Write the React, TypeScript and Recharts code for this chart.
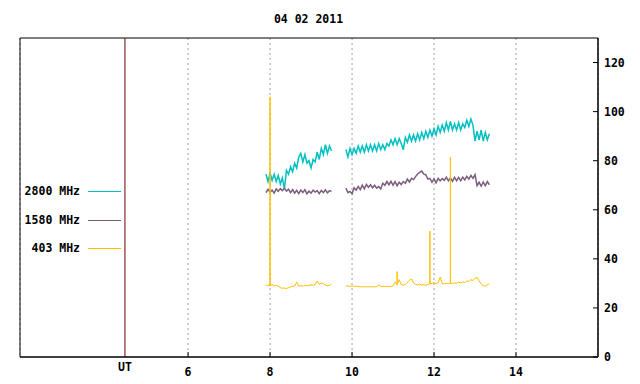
import React from 'react';
import { LineChart, Line, XAxis, YAxis, CartesianGrid, ReferenceLine, ReferenceArea } from 'recharts';

const TITLE = '04 02 2011';
const X_TICKS = [6, 8, 10, 12, 14];
const Y_TICKS = [0, 20, 40, 60, 80, 100, 120];
const UT_HOUR = 4.46;

const SERIES_NAMES = ['2800 MHz', '1580 MHz', '403 MHz'];
const SERIES_COLORS = ['#00c0c0', '#7c5c7c', '#ffbe00'];

// sample times (UT hours) for 2800 / 1580 MHz, null entry marks the data gap
const T_HI = [
    7.90, 7.95, 8.00, 8.05, 8.10, 8.15, 8.20, 8.25, 8.30, 8.35, 8.40, 8.45, 8.50, 8.55, 8.60, 8.65, 8.70,
    8.75, 8.80, 8.85, 8.90, 8.95, 9.00, 9.05, 9.10, 9.15, 9.20, 9.25, 9.30, 9.35, 9.40, 9.45, 9.50,
    9.70,
    9.85, 9.90, 9.95, 10.00, 10.05, 10.10, 10.15, 10.20, 10.25, 10.30, 10.35, 10.40, 10.45, 10.50, 10.55,
    10.60, 10.65, 10.70, 10.75, 10.80, 10.85, 10.90, 10.95, 11.00, 11.05, 11.10, 11.15, 11.20, 11.25,
    11.30, 11.35, 11.40, 11.45, 11.50, 11.55, 11.60, 11.65, 11.70, 11.75, 11.80, 11.85, 11.90, 11.95,
    12.00, 12.05, 12.10, 12.15, 12.20, 12.25, 12.30, 12.35, 12.40, 12.45, 12.50, 12.55, 12.60, 12.65,
    12.70, 12.75, 12.80, 12.85, 12.90, 12.95, 13.00, 13.05, 13.10, 13.15, 13.20, 13.25, 13.30, 13.35,
];

const V_2800 = [
    74.5, 71.5, 75.0, 72.0, 74.5, 71.5, 74.0, 70.5, 73.0, 68.5, 76.0, 74.5, 77.5, 75.5, 79.0, 77.0, 81.5,
    83.0, 79.5, 82.5, 79.0, 80.0, 77.0, 80.5, 79.5, 83.5, 80.5, 85.0, 82.5, 86.5, 83.0, 86.0, 84.0,
    null,
    84.5, 81.5, 85.0, 82.5, 85.0, 83.0, 86.0, 83.5, 86.0, 83.5, 86.5, 84.0, 86.5, 84.0, 86.5,
    84.0, 87.0, 84.5, 86.5, 84.5, 87.0, 86.0, 88.5, 86.5, 89.0, 86.5, 89.0, 87.0, 84.5,
    89.5, 87.5, 90.5, 88.0, 90.5, 88.0, 91.0, 88.5, 91.5, 89.0, 92.0, 89.5, 92.5, 90.0,
    93.0, 90.5, 94.0, 91.5, 94.5, 92.0, 95.5, 92.5, 96.0, 92.5, 95.0, 92.5, 95.5, 92.5,
    95.0, 93.5, 96.5, 94.0, 97.0, 94.5, 88.0, 92.0, 88.5, 92.5, 88.0, 91.5, 88.5, 91.0,
];

const V_1580 = [
    67.0, 68.3, 67.2, 68.0, 66.8, 68.5, 67.5, 68.6, 67.8, 68.8, 67.6, 68.4, 67.0, 68.2, 66.8, 67.9, 66.6,
    68.0, 67.0, 68.2, 66.5, 67.6, 66.8, 68.0, 67.2, 67.8, 66.6, 67.9, 67.0, 68.1, 66.9, 67.8, 67.5,
    null,
    68.8, 67.0, 67.5, 66.5, 69.0, 68.0, 69.5, 68.2, 70.0, 68.5, 70.3, 69.2, 70.2, 69.0, 70.0,
    68.8, 69.5, 68.5, 70.8, 70.0, 71.5, 70.2, 71.6, 70.0, 71.5, 69.8, 71.2, 70.3, 71.5,
    70.8, 72.5, 71.3, 72.8, 72.3, 73.5, 74.6, 75.2, 75.8, 74.5, 74.3, 72.5, 72.8, 71.2,
    72.6, 71.0, 72.8, 71.8, 72.7, 72.0, 73.3, 71.8, 73.0, 71.6, 73.2, 71.8, 73.2, 71.8,
    73.3, 72.2, 73.6, 72.5, 74.0, 72.8, 74.3, 69.8, 71.2, 69.6, 71.3, 69.8, 71.5, 70.2,
];

// 403 MHz has its own times: repeated times draw the one-sample spikes as vertical strokes
const T_403 = [
    7.90, 7.95, 8.00, 8.00, 8.00, 8.05, 8.10, 8.15, 8.20, 8.25, 8.30, 8.35, 8.40, 8.45, 8.50, 8.55, 8.60,
    8.65, 8.70, 8.75, 8.80, 8.85, 8.90, 8.95, 9.00, 9.05, 9.10, 9.15, 9.20, 9.25, 9.30, 9.35, 9.40, 9.45, 9.50,
    9.70,
    9.85, 9.90, 9.95, 10.00, 10.05, 10.10, 10.15, 10.20, 10.25, 10.30, 10.35, 10.40, 10.45, 10.50, 10.55,
    10.60, 10.65, 10.70, 10.75, 10.80, 10.85, 10.90, 10.95, 11.00, 11.05, 11.10, 11.10, 11.10, 11.15,
    11.20, 11.25, 11.30, 11.35, 11.40, 11.45, 11.50, 11.55, 11.60, 11.65, 11.70, 11.75, 11.80, 11.85,
    11.90, 11.90, 11.90, 11.95, 12.00, 12.05, 12.10, 12.15, 12.20, 12.25, 12.30, 12.35, 12.40, 12.40, 12.40,
    12.45, 12.50, 12.55, 12.60, 12.65, 12.70, 12.75, 12.80, 12.85, 12.90, 12.95, 13.00, 13.05, 13.10,
    13.15, 13.20, 13.25, 13.30, 13.35,
];

const V_403 = [
    29.2, 29.3, 29.2, 106.0, 29.0, 29.5, 29.0, 29.3, 28.8, 28.3, 28.0, 28.1, 27.9, 28.2, 28.6, 28.8, 28.8,
    30.5, 28.9, 29.0, 28.9, 29.1, 29.0, 29.2, 29.4, 29.3, 29.5, 31.0, 29.6, 30.2, 29.8, 29.4, 29.0, 29.2, 29.6,
    null,
    28.9, 29.0, 28.8, 28.9, 28.9, 28.8, 28.7, 28.6, 28.6, 28.6, 28.6, 28.6, 28.6, 28.6, 28.6,
    28.6, 29.5, 28.7, 28.7, 28.7, 28.7, 28.7, 28.7, 29.0, 30.5, 29.5, 34.8, 29.5, 31.5,
    29.5, 29.3, 29.6, 30.5, 31.2, 31.8, 30.2, 29.6, 29.4, 29.7, 29.3, 29.5, 29.2, 29.6,
    29.8, 51.3, 29.8, 30.0, 30.3, 29.8, 30.2, 32.6, 30.0, 29.8, 30.0, 29.9, 30.0, 81.5, 30.0,
    30.0, 30.2, 30.0, 30.5, 30.2, 30.6, 30.3, 31.0, 30.8, 31.5, 31.2, 32.0, 32.5, 31.0,
    29.8, 29.0, 28.9, 29.4, 29.8,
];

const hiData = T_HI.map((t, i) => ({ t, a: V_2800[i], b: V_1580[i] }));
const loData = T_403.map((t, i) => ({ t, c: V_403[i] }));

const FONT = "'DejaVu Sans Mono', monospace";
const txt = { fontFamily: FONT, fontSize: 11.5, fontWeight: 700, fill: '#000' };

const XTick = ({ x, y, payload }: any) => (
    <g>
        <line x1={x} x2={x} y1={y} y2={y - 5} stroke="#000" />
        <text x={x} y={y + 19} textAnchor="middle" style={txt}>{payload.value}</text>
    </g>
);

const YTick = ({ x, y, payload }: any) => (
    <g>
        <line x1={x} x2={x - 5} y1={y} y2={y} stroke="#000" />
        <text x={x + 6} y={y + 4} textAnchor="start" style={txt}>{payload.value}</text>
    </g>
);

const UTLabel = ({ viewBox }: any) => (
    <text x={viewBox.x} y={viewBox.y + viewBox.height + 14} textAnchor="middle" style={txt}>UT</text>
);

export default function App() {
    return (
        <div style={{ position: 'absolute', left: 0, top: 0, width: 640, height: 384, background: '#fff' }}>
            <div style={{
                position: 'absolute', left: 0, top: 12, width: 617, textAlign: 'center',
                fontFamily: FONT, fontSize: 11.5, fontWeight: 700, lineHeight: '14px',
            }}>
                {TITLE}
            </div>
            {SERIES_NAMES.map((name, i) => (
                <div key={name} style={{ position: 'absolute', left: 0, top: 184 + i * 28.5, height: 14, width: 130 }}>
                    <div style={{
                        position: 'absolute', right: 50, top: 0, whiteSpace: 'pre', fontFamily: FONT,
                        fontSize: 11.5, fontWeight: 700, lineHeight: '14px',
                    }}>{name}</div>
                    <div style={{ position: 'absolute', left: 88, top: 7, width: 33, height: 1, background: SERIES_COLORS[i] }} />
                </div>
            ))}
            <LineChart width={640} height={384} margin={{ top: 38, right: 0, bottom: 0, left: 20 }}>
                <CartesianGrid horizontal={false} stroke="#a0a0a0" strokeDasharray="2 3" />
                <XAxis
                    dataKey="t"
                    type="number"
                    domain={[1.9, 16]}
                    allowDataOverflow
                    ticks={X_TICKS}
                    height={27}
                    tickSize={0}
                    tickMargin={0}
                    tickLine={false}
                    axisLine={{ stroke: '#000' }}
                    tick={<XTick />}
                />
                <YAxis
                    orientation="right"
                    width={42}
                    domain={[0, 130]}
                    ticks={Y_TICKS}
                    tickSize={0}
                    tickMargin={0}
                    tickLine={false}
                    axisLine={{ stroke: '#000' }}
                    tick={<YTick />}
                />
                <ReferenceArea x1={1.9} x2={16} y1={0} y2={130} fill="none" stroke="#000" fillOpacity={0} />
                <ReferenceLine x={UT_HOUR} stroke="#6e0000" label={<UTLabel />} />
                <Line data={hiData} dataKey="a" name={SERIES_NAMES[0]} stroke={SERIES_COLORS[0]} strokeWidth={1.5}
                    dot={false} isAnimationActive={false} connectNulls={false} />
                <Line data={hiData} dataKey="b" name={SERIES_NAMES[1]} stroke={SERIES_COLORS[1]} strokeWidth={1.5}
                    dot={false} isAnimationActive={false} connectNulls={false} />
                <Line data={loData} dataKey="c" name={SERIES_NAMES[2]} stroke={SERIES_COLORS[2]} strokeWidth={1}
                    dot={false} isAnimationActive={false} connectNulls={false} />
            </LineChart>
        </div>
    );
}
